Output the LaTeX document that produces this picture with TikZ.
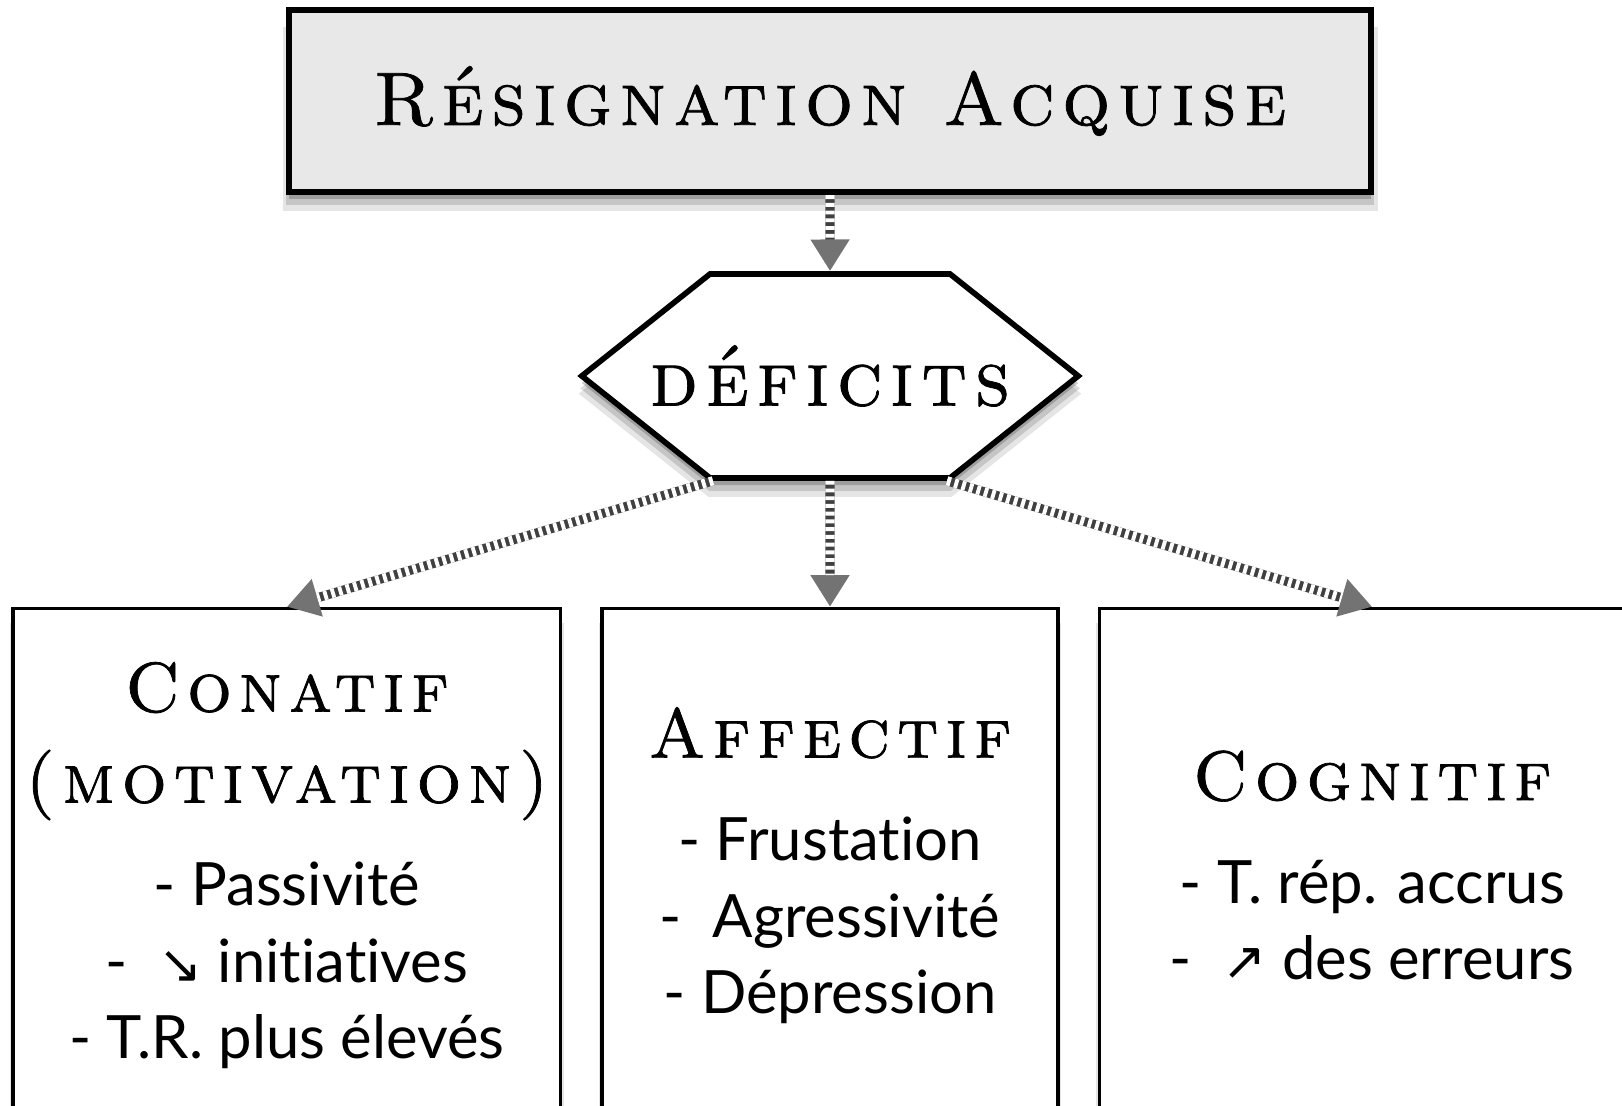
\documentclass[tikz,border=0pt]{standalone}
\usepackage{fontspec}
\setmainfont{Lato}[Ligatures=NoCommon]
\newfontfamily\capsfont[LetterSpace=10, FakeBold=1]{lmromancaps10-regular.otf}
\newfontfamily\symfont{DejaVu Sans}
\usetikzlibrary{positioning,arrows.meta,shapes.symbols,shadows}

\newcommand{\headline}[1]{{\capsfont\fontsize{20}{22}\selectfont #1}}

\begin{document}
\begin{tikzpicture}[
node distance=0.38cm,
softshadow/.style={
  drop shadow={shadow xshift=0pt, shadow yshift=-5pt, shadow scale=1.012, opacity=0.10, fill=black},
  drop shadow={shadow xshift=0pt, shadow yshift=-3.5pt, shadow scale=1.006, opacity=0.14, fill=black},
  drop shadow={shadow xshift=0pt, shadow yshift=-2pt, opacity=0.2, fill=black}},
titlebox/.style={draw, line width=1.8pt, fill=black!9, minimum width=10.82cm, minimum height=1.82cm, softshadow, font=\capsfont\fontsize{21.5}{24}\selectfont},
hexbox/.style={shape=signal, signal to=west and east, signal pointer angle=77, draw, line width=1.6pt, fill=white, minimum width=3.72cm, minimum height=2.04cm, inner sep=0pt, softshadow, font=\capsfont\fontsize{22}{26}\selectfont},
catbox/.style={draw, line width=0.9pt, fill=white, minimum height=5.14cm, align=center, softshadow, font=\fontsize{17}{21.7}\selectfont},
link/.style={-{Triangle[width=10.5pt, length=9pt, color=black!55]}, line width=2.6pt, black!75,
  postaction={draw=white, -, line width=2.6pt, dash pattern=on 1.1pt off 1.1pt, shorten >=9pt}}
]
\clip (0,0) rectangle (16.22,-11.06);

\node[titlebox] (resign) at (8.30,-1.01) {Résignation Acquise};
\node[hexbox, below=0.76cm of resign] (deficits) {\makebox[2.4cm]{déficits}};

\node[catbox, minimum width=4.56cm, below=1.26cm of deficits] (affectif)
  {\headline{Affectif}\\[7.7pt]
   - Frustation\\
   -\ \ Agressivité\\
   - Dépression};
\node[catbox, minimum width=5.47cm, left=of affectif] (conatif)
  {\headline{Conatif}\\[4.2pt]
   \headline{(motivation)}\\[7.7pt]
   - Passivité\\
   -\ \ {\symfont\fontsize{15}{18}\selectfont ↘} initiatives\\
   - T.R. plus élevés};
\node[catbox, minimum width=5.46cm, right=of affectif] (cognitif)
  {\headline{Cognitif}\\[7.7pt]
   - T. rép. accrus\\
   -\ \ {\symfont\fontsize{15}{18}\selectfont ↗} des erreurs};

% liens
\draw[link] (resign) -- (deficits);
\draw[link] ([xshift=-1.17cm]deficits.south) -- (conatif.north);
\draw[link] (deficits) -- (affectif);
\draw[link] ([xshift=1.17cm]deficits.south) -- (cognitif.north);
\end{tikzpicture}
\end{document}
